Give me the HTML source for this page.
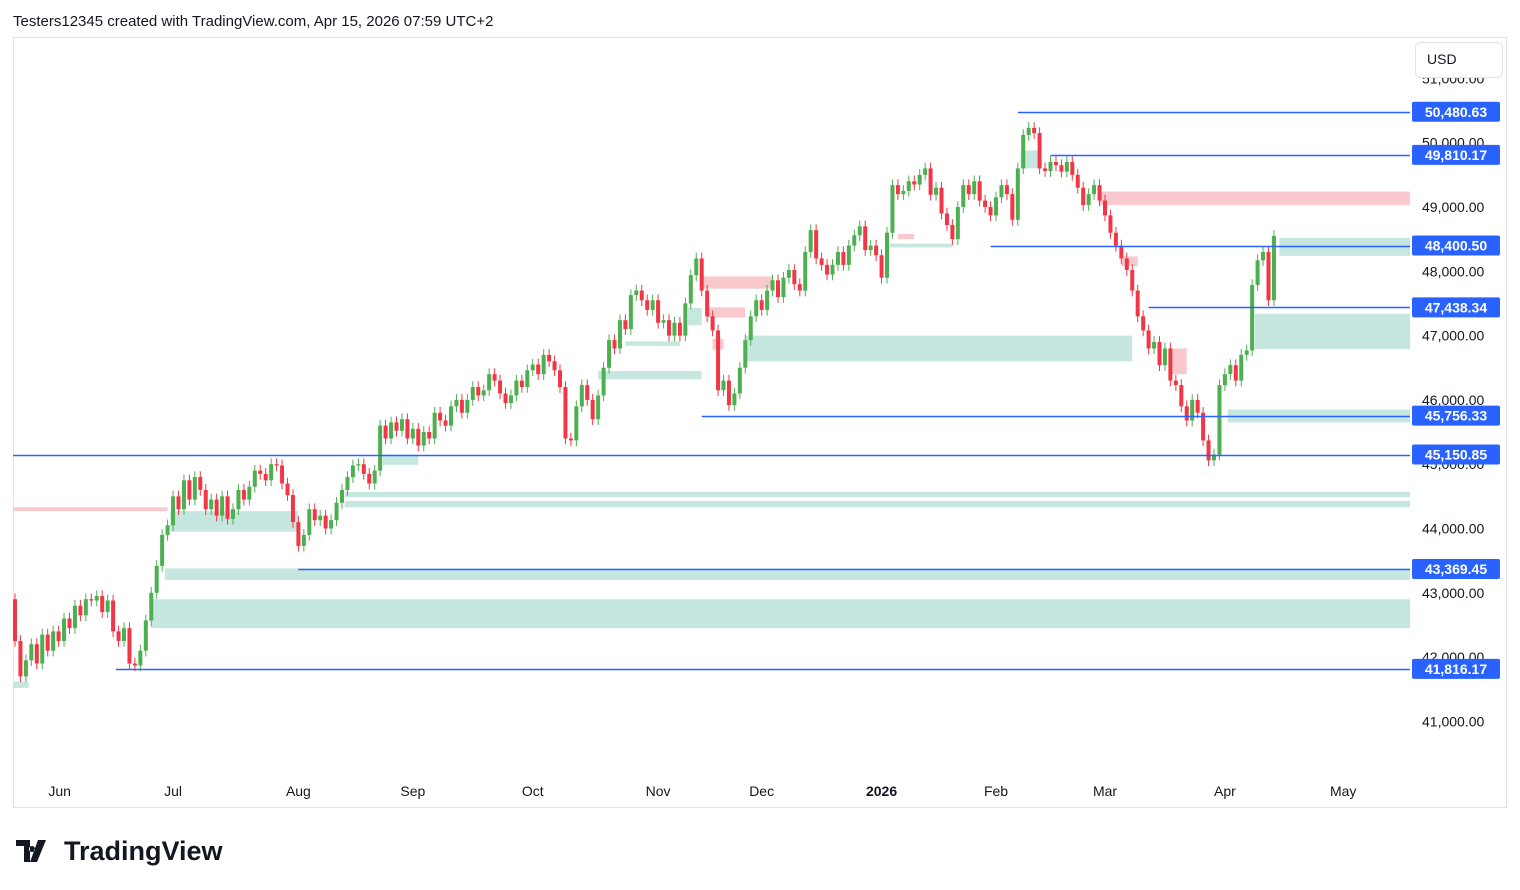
<!DOCTYPE html>
<html><head><meta charset="utf-8"><style>
html,body{margin:0;padding:0;background:#fff;}
svg{display:block;font-family:"Liberation Sans",sans-serif;}
</style></head><body>
<svg id="chart" width="1520" height="890" viewBox="0 0 1520 890" xmlns="http://www.w3.org/2000/svg">
<text x="13" y="26" font-size="15" fill="#131722" font-weight="500">Testers12345 created with TradingView.com, Apr 15, 2026 07:59 UTC+2</text>
<rect x="13.5" y="37.5" width="1493" height="770" fill="#fff" stroke="#e0e3eb"/>
<g id="zones"></g>
<g id="candles"></g>
<g id="levels"></g>
<g id="yaxis"></g>
<g id="xaxis"></g>
<rect x="1415.5" y="42.5" width="87" height="35" rx="5" fill="#fff" stroke="#e0e3eb"/>
<text x="1427" y="64" font-size="14" fill="#131722">USD</text>
<g>
<path d="M16 840h14v22h-6v-16h-8z M32 846a3 3 0 1 0 0.01 0z M38 840h8l-9 22h-7z" fill="#131722"/>
<text x="64" y="860" font-size="27" font-weight="bold" fill="#131722">TradingView</text>
</g>
</svg>
<script>
const yTicks = [51000,50000,49000,48000,47000,46000,45000,44000,43000,42000,41000];
const monthLabels = ["Jun","Jul","Aug","Sep","Oct","Nov","Dec","2026","Feb","Mar","Apr","May"];
const monthIndex = [8.2,29,52,73,95,118,137,159,180,200,222,243.7];
const closes = [42250,41700,41950,42200,41900,42350,42100,42400,42250,42600,42450,42800,42650,42900,42880,42950,42700,42880,42400,42250,42450,41900,41870,42100,42570,43000,43420,43900,44050,44500,44300,44750,44450,44800,44600,44300,44450,44200,44500,44150,44300,44600,44450,44650,44900,44850,44750,45000,44980,44700,44520,44100,43730,43900,44300,44130,44200,44000,44130,44400,44600,44800,44980,45000,44850,44700,44900,45600,45400,45650,45520,45700,45400,45550,45290,45500,45400,45800,45680,45600,45900,46000,45800,46000,46200,46070,46150,46400,46300,46100,45950,46070,46300,46200,46460,46550,46400,46700,46600,46460,46200,45400,45370,45900,46230,46000,45700,46070,46500,46930,46800,47240,47100,47630,47700,47550,47400,47550,47200,47240,47000,47200,47000,47500,47940,48200,47700,47300,47080,46150,46300,45920,46100,46500,46930,47300,47550,47400,47700,47860,47600,47900,48020,47800,47700,48300,48640,48200,48100,47950,48100,48300,48100,48400,48560,48700,48330,48400,48250,47900,48600,49340,49200,49250,49400,49350,49500,49600,49190,49300,48900,48720,48500,49000,49340,49200,49400,49100,49000,48870,49150,49340,49200,48800,49600,50120,50230,50150,49600,49560,49700,49650,49550,49700,49500,49300,49030,49200,49340,49100,48870,48600,48400,48200,48020,47700,47300,47080,46800,46900,46540,46800,46300,46230,45900,45680,46000,45800,45370,45060,45150,46230,46400,46540,46300,46700,46770,47785,48170,48300,47550,48550];
const firstOpen = 42900;
const levelPrices = [50480.63,49810.17,48400.50,47438.34,45756.33,45150.85,43369.45,41816.17];
const levelStartIdx = [184,190,179,208,126,-1,52,18.5];
const greenZones = [[232,48520,48240],[227.5,47340,46790],[222.5,45850,45650],[134,47000,46600],[60.5,44570,44490],[60.5,44430,44330],[27.5,43380,43200],[25,42900,42450],[28.5,44270,43950],[107,46450,46320],[112,46910,46840],[67.5,45150,44990],[123.5,47430,47160],[184.5,49880,49600],[160.5,48430,48370],[-0.5,41620,41520]];
const greenZoneEnd = [-1,-1,-1,205,-1,-1,-1,-1,52,126,122,74,126,188,172,2.5];
const redZones = [[1,217,49240,49030],[-0.5,28,44330,44270],[126,139,47920,47730],[127,134,47440,47280],[128,130,46950,46780],[203,206,48230,48080],[212,215,46800,46400],[162,165,48580,48500]];

const SVGNS="http://www.w3.org/2000/svg";
const plotRight=1410;
function yOf(p){return 207+(49000-p)*0.0643;}
function xOf(i){return 15+i*5.45;}
function mk(tag,attrs,parent){const e=document.createElementNS(SVGNS,tag);for(const k in attrs)e.setAttribute(k,attrs[k]);parent.appendChild(e);return e;}

const zg=document.getElementById('zones');
greenZones.forEach((z,k)=>{
  const x0=Math.max(13,xOf(z[0]));const x1=greenZoneEnd[k]<0?plotRight:xOf(greenZoneEnd[k]);
  const r=mk('rect',{x:x0,y:yOf(z[1]),width:x1-x0,height:yOf(z[2])-yOf(z[1]),fill:'#c6e7e0'},zg);
  
  
});
redZones.forEach(z=>{
  const x0=z[0]===1?1100:Math.max(13,xOf(z[0]));const x1=z[0]===1?plotRight:xOf(z[1]);
  const r=mk('rect',{x:x0,y:yOf(z[2]),width:x1-x0,height:yOf(z[3])-yOf(z[2]),fill:'#f9c9cd'},zg);
  
  
});

const cg=document.getElementById('candles');
closes.forEach((c,i)=>{
  const o=i===0?firstOpen:closes[i-1];
  const up=c>=o;const col=up?'#4caf50':'#f23645';
  const x=xOf(i);
  const hi=Math.max(o,c)+90, lo=Math.min(o,c)-90;
  const g=mk('g',{},cg);
  
  
  mk('line',{x1:x,x2:x,y1:yOf(hi),y2:yOf(lo),stroke:col,'stroke-width':1},g);
  const yt=yOf(Math.max(o,c)),yb=yOf(Math.min(o,c));
  mk('rect',{x:x-2,y:yt,width:4,height:Math.max(1,yb-yt),fill:col},g);
});

const lg=document.getElementById('levels');
levelPrices.forEach((p,k)=>{
  const y=Math.round(yOf(p))+0.5;
  const x0=levelStartIdx[k]<0?13:xOf(levelStartIdx[k]);
  const l=mk('line',{x1:x0,x2:plotRight,y1:y,y2:y,stroke:'#2962ff','stroke-width':1.6},lg);
  
  
});

const ya=document.getElementById('yaxis');
yTicks.forEach(p=>{
  const t=mk('text',{x:1422,y:yOf(p)+5,'font-size':14,fill:'#131722'},ya);
  t.textContent=p.toLocaleString('en-US',{minimumFractionDigits:2});
  
  
});
levelPrices.forEach(p=>{
  const y=yOf(p);
  const r=mk('rect',{x:1412,y:y-10,width:88,height:20,rx:2,fill:'#2962ff'},ya);
  
  
  const t=mk('text',{x:1456,y:y+5,'font-size':14,fill:'#fff','text-anchor':'middle','font-weight':'bold'},ya);
  t.textContent=p.toLocaleString('en-US',{minimumFractionDigits:2});
  
  
});

const xa=document.getElementById('xaxis');
monthLabels.forEach((m,k)=>{
  const t=mk('text',{x:xOf(monthIndex[k]),y:796,'font-size':14,fill:'#131722','text-anchor':'middle','font-weight':m==='2026'?'bold':'normal'},xa);
  t.textContent=m;
  
  
});
</script>
</body></html>
